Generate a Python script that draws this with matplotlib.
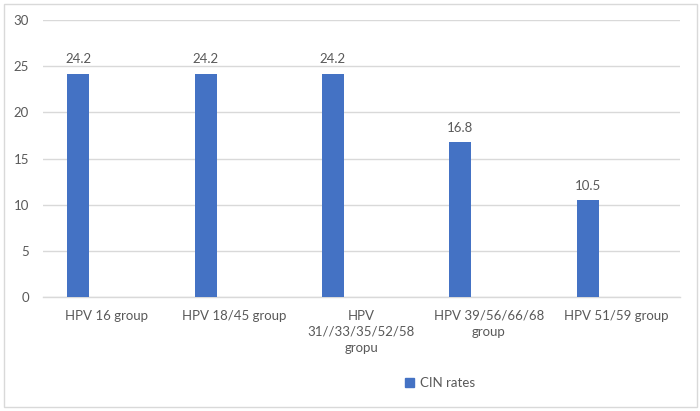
import matplotlib.pyplot as plt
from matplotlib.patches import Rectangle, Patch

plt.rcParams['font.family'] = ['Lato', 'DejaVu Sans']

# data
groups = ["HPV 16 group", "HPV 18/45 group", "HPV\n31//33/35/52/58\ngropu",
          "HPV 39/56/66/68\ngroup", "HPV 51/59 group"]
cin_rates = [24.2, 24.2, 24.2, 16.8, 10.5]
series_name = "CIN rates"

bar_color = "#4472C4"
text_color = "#595959"
grid_color = "#d9d9d9"

fig = plt.figure(figsize=(7, 4.11), dpi=100)
ax = fig.add_axes([43 / 700, 1 - 297 / 411, 637 / 700, 277 / 411])

x = list(range(len(groups)))
bars = ax.bar([i - 0.224 for i in x], cin_rates, width=0.173, color=bar_color, zorder=3)
for b, v in zip(bars, cin_rates):
    ax.text(b.get_x() + b.get_width() / 2, v + 0.9, f"{v}", ha="center", va="bottom",
            fontsize=9.5, color=text_color)

ax.set_xlim(-0.5, len(groups) - 0.5)
ax.set_ylim(0, 30)
ax.set_yticks(range(0, 31, 5))
ax.set_xticks(x)
ax.set_xticklabels(groups, fontsize=9.5, color=text_color, linespacing=1.4)
ax.tick_params(axis="y", labelsize=9.5, labelcolor=text_color, length=0, pad=10)
ax.tick_params(axis="x", length=0, pad=9)
ax.grid(axis="y", color=grid_color, linewidth=1, zorder=0)
for s in ["top", "right", "left"]:
    ax.spines[s].set_visible(False)
ax.spines["bottom"].set_color(grid_color)
ax.spines["bottom"].set_linewidth(1)

fig.legend(handles=[Patch(color=bar_color, label=series_name)], loc="center",
           bbox_to_anchor=(440 / 700, 1 - 383 / 411), frameon=False, fontsize=9.5,
           handlelength=0.7, handleheight=0.7, handletextpad=0.4,
           labelcolor=text_color)

fig.patches.append(Rectangle((4 / 700, 4 / 411), 693 / 700, 403 / 411,
                             transform=fig.transFigure, fill=False,
                             edgecolor=grid_color, linewidth=1))

fig.savefig("out.png", dpi=100)
